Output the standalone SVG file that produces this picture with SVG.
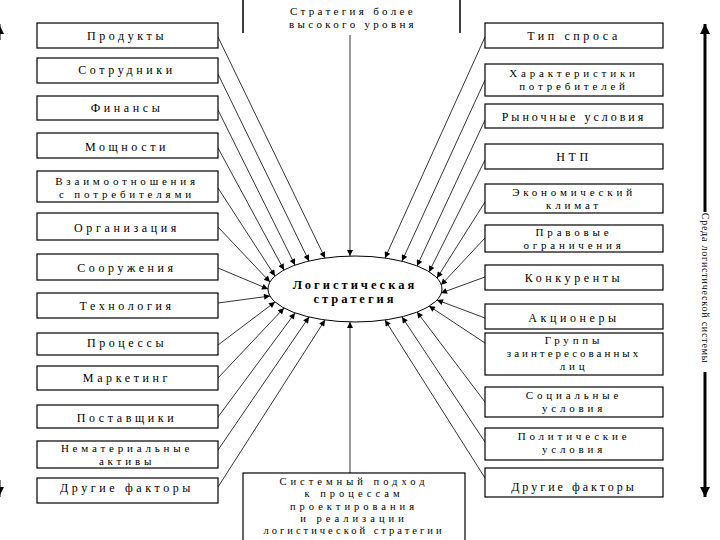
<svg xmlns="http://www.w3.org/2000/svg" width="720" height="540" viewBox="0 0 720 540">
<style>
.b{fill:#fff;stroke:#000;stroke-width:1.2}
.t{font-family:"Liberation Serif","DejaVu Serif",serif;font-size:12px;letter-spacing:3.6px;text-anchor:middle;fill:#000}
.m{font-size:11px;letter-spacing:3.8px}
.c{stroke:#000;stroke-width:0.8;fill:none;marker-end:url(#ah)}
.ct{font-family:"Liberation Serif","DejaVu Serif",serif;font-size:12.5px;font-weight:bold;letter-spacing:3px;text-anchor:middle}
</style>
<defs>
<marker id="ah" viewBox="0 0 10 10" refX="10" refY="5" markerWidth="9" markerHeight="6" markerUnits="userSpaceOnUse" orient="auto">
<path d="M0,0 L10,5 L0,10 Z" fill="#000"/>
</marker>
<marker id="big" viewBox="0 0 10 10" refX="10" refY="5" markerWidth="10" markerHeight="10" markerUnits="userSpaceOnUse" orient="auto">
<path d="M0,0 L10,5 L0,10 Z" fill="#000"/>
</marker>
</defs>
<rect width="720" height="540" fill="#fff"/>

<g id="connectors">
<line class="c" x1="350" y1="35" x2="350" y2="256"/>
<line class="c" x1="350" y1="473" x2="350" y2="322"/>
<line class="c" x1="218" y1="37" x2="325" y2="258"/>
<line class="c" x1="218" y1="74" x2="309" y2="261"/>
<line class="c" x1="218" y1="110" x2="295" y2="265"/>
<line class="c" x1="218" y1="148" x2="284" y2="270"/>
<line class="c" x1="218" y1="188" x2="275" y2="276"/>
<line class="c" x1="218" y1="227" x2="270" y2="282"/>
<line class="c" x1="218" y1="268" x2="268" y2="289"/>
<line class="c" x1="218" y1="303" x2="270" y2="296"/>
<line class="c" x1="218" y1="345" x2="275" y2="302"/>
<line class="c" x1="218" y1="378" x2="284" y2="308"/>
<line class="c" x1="218" y1="417" x2="295" y2="313"/>
<line class="c" x1="218" y1="450" x2="309" y2="317"/>
<line class="c" x1="218" y1="487" x2="325" y2="320"/>
<line class="c" x1="485" y1="37" x2="385" y2="258"/>
<line class="c" x1="485" y1="80" x2="402" y2="261"/>
<line class="c" x1="485" y1="120" x2="417" y2="266"/>
<line class="c" x1="485" y1="160" x2="429" y2="272"/>
<line class="c" x1="485" y1="202" x2="437" y2="278"/>
<line class="c" x1="485" y1="238" x2="441" y2="285"/>
<line class="c" x1="485" y1="277" x2="441" y2="293"/>
<line class="c" x1="485" y1="318" x2="437" y2="300"/>
<line class="c" x1="485" y1="343" x2="429" y2="306"/>
<line class="c" x1="485" y1="402" x2="417" y2="312"/>
<line class="c" x1="485" y1="442" x2="402" y2="317"/>
<line class="c" x1="485" y1="478" x2="385" y2="320"/>
</g>

<g id="center">
<ellipse cx="355" cy="289" rx="87" ry="33" fill="#fff" stroke="#000" stroke-width="1"/>
<text class="ct" x="355" y="289">Логистическая</text>
<text class="ct" x="355" y="303">стратегия</text>
</g>

<g id="top">
<path d="M243,-2 V33 M460,-2 V33" stroke="#000" stroke-width="1.5" fill="none"/>
<text class="t m" x="353" y="15" style="letter-spacing:3.3px">Стратегия более</text>
<text class="t m" x="353" y="28" style="letter-spacing:3.3px">высокого уровня</text>
</g>

<g id="bottom">
<rect class="b" x="243" y="473" width="222" height="80"/>
<text class="t" x="354" y="485" style="font-size:10.5px;letter-spacing:4px">Системный подход</text>
<text class="t" x="354" y="497.3" style="font-size:10.5px;letter-spacing:4px">к процессам</text>
<text class="t" x="354" y="509.6" style="font-size:10.5px;letter-spacing:4px">проектирования</text>
<text class="t" x="354" y="521.9" style="font-size:10.5px;letter-spacing:4px">и реализации</text>
<text class="t" x="354" y="534.2" style="font-size:10.5px;letter-spacing:3px">логистической стратегии</text>
</g>

<g id="l1"><rect class="b" x="37" y="23" width="181" height="25"/><text class="t" x="127" y="40">Продукты</text></g>
<g id="l2"><rect class="b" x="37" y="58" width="181" height="25"/><text class="t" x="127" y="74">Сотрудники</text></g>
<g id="l3"><rect class="b" x="37" y="96" width="181" height="24"/><text class="t" x="127" y="112">Финансы</text></g>
<g id="l4"><rect class="b" x="37" y="133" width="181" height="25"/><text class="t" x="127" y="151">Мощности</text></g>
<g id="l5"><rect class="b" x="37" y="171" width="181" height="31"/><text class="t m" x="127" y="185">Взаимоотношения</text><text class="t m" x="127" y="198">с потребителями</text></g>
<g id="l6"><rect class="b" x="37" y="213" width="181" height="27"/><text class="t" x="127" y="232">Организация</text></g>
<g id="l7"><rect class="b" x="37" y="254" width="181" height="26"/><text class="t" x="127" y="272">Сооружения</text></g>
<g id="l8"><rect class="b" x="37" y="293" width="181" height="25"/><text class="t" x="127" y="310">Технология</text></g>
<g id="l9"><rect class="b" x="37" y="333" width="181" height="22"/><text class="t" x="127" y="347">Процессы</text></g>
<g id="l10"><rect class="b" x="37" y="366" width="181" height="24"/><text class="t" x="127" y="382">Маркетинг</text></g>
<g id="l11"><rect class="b" x="37" y="405" width="181" height="23"/><text class="t" x="127" y="422">Поставщики</text></g>
<g id="l12"><rect class="b" x="37" y="441" width="181" height="27"/><text class="t m" x="127" y="452">Нематериальные</text><text class="t m" x="127" y="465">активы</text></g>
<g id="l13"><rect class="b" x="37" y="478" width="181" height="25"/><text class="t" x="127" y="492">Другие факторы</text></g>

<g id="r1"><rect class="b" x="485" y="23" width="178" height="25"/><text class="t" x="574" y="40">Тип спроса</text></g>
<g id="r2"><rect class="b" x="485" y="64" width="178" height="32"/><text class="t m" x="574" y="77">Характеристики</text><text class="t m" x="574" y="90">потребителей</text></g>
<g id="r3"><rect class="b" x="485" y="104" width="178" height="24"/><text class="t" x="574" y="121" style="letter-spacing:3px">Рыночные условия</text></g>
<g id="r4"><rect class="b" x="485" y="144" width="178" height="25"/><text class="t" x="574" y="161">НТП</text></g>
<g id="r5"><rect class="b" x="485" y="184" width="178" height="29"/><text class="t m" x="574" y="196">Экономический</text><text class="t m" x="574" y="209">климат</text></g>
<g id="r6"><rect class="b" x="485" y="225" width="178" height="27"/><text class="t m" x="574" y="236">Правовые</text><text class="t m" x="574" y="249">ограничения</text></g>
<g id="r7"><rect class="b" x="485" y="265" width="178" height="25"/><text class="t" x="574" y="282">Конкуренты</text></g>
<g id="r8"><rect class="b" x="485" y="304" width="178" height="25"/><text class="t" x="574" y="322">Акционеры</text></g>
<g id="r9"><rect class="b" x="485" y="333" width="178" height="42"/><text class="t m" x="574" y="344">Группы</text><text class="t m" x="574" y="357" style="letter-spacing:3px">заинтересованных</text><text class="t m" x="574" y="370">лиц</text></g>
<g id="r10"><rect class="b" x="485" y="387" width="178" height="30"/><text class="t m" x="574" y="399">Социальные</text><text class="t m" x="574" y="412">условия</text></g>
<g id="r11"><rect class="b" x="485" y="428" width="178" height="32"/><text class="t m" x="574" y="440">Политические</text><text class="t m" x="574" y="453">условия</text></g>
<g id="r12"><rect class="b" x="485" y="468" width="178" height="29"/><text class="t" x="574" y="491" style="letter-spacing:3px">Другие факторы</text></g>

<g id="side-right">
<line x1="705" y1="212" x2="705" y2="24" stroke="#000" stroke-width="3" marker-end="url(#big)"/>
<line x1="705" y1="372" x2="705" y2="497" stroke="#000" stroke-width="3" marker-end="url(#big)"/>
<text x="705" y="288" transform="rotate(90 705 288)" font-family="'Liberation Serif','DejaVu Serif',serif" font-size="10" text-anchor="middle" dominant-baseline="central" letter-spacing="0.8">Среда логистической системы</text>
</g>

<g id="side-left">
<line x1="-1" y1="40" x2="-1" y2="24" stroke="#000" stroke-width="3" marker-end="url(#big)"/>
<line x1="-1" y1="480" x2="-1" y2="497" stroke="#000" stroke-width="3" marker-end="url(#big)"/>
</g>
</svg>
